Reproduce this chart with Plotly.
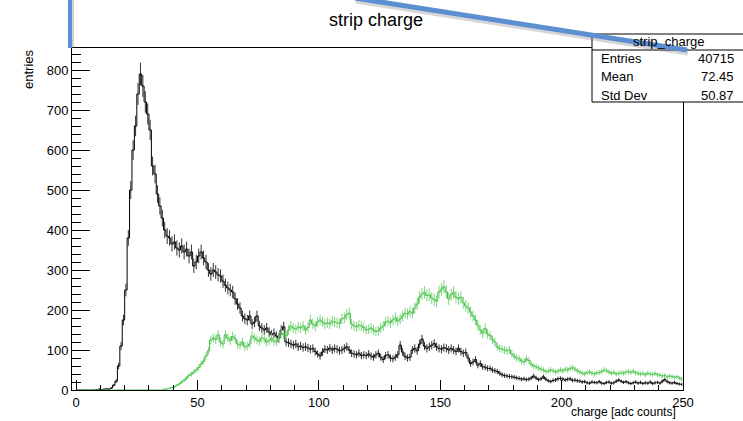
import numpy as np
import plotly.graph_objects as go

# ---------------- data (bin contents, bins of width 1 from 0 to 250) ----------------
black_counts = [
    0, 0, 0, 0, 0, 0, 0, 0, 1, 2, 1, 2, 3, 2, 5, 12, 22, 60, 110, 175,
    250, 380, 500, 600, 660, 740, 790, 760, 720, 690, 650, 560, 540, 490, 460, 430, 400, 385, 380, 365,
    370, 355, 350, 360, 345, 352, 335, 345, 310, 320, 335, 345, 330, 320, 300, 290, 300, 295, 288, 285,
    272, 262, 255, 250, 245, 228, 215, 205, 185, 178, 175, 185, 165, 170, 185, 160, 155, 150, 155, 145,
    138, 142, 135, 130, 150, 158, 120, 118, 115, 112, 115, 108, 110, 106, 108, 105, 102, 104, 96, 90,
    85, 95, 102, 100, 105, 100, 104, 102, 98, 100, 104, 108, 100, 92, 90, 88, 92, 86, 88, 86,
    90, 85, 82, 88, 92, 82, 76, 86, 88, 80, 78, 82, 88, 112, 95, 84, 80, 82, 100, 104,
    98, 115, 127, 110, 104, 108, 112, 116, 108, 104, 102, 106, 104, 100, 104, 100, 96, 104, 96, 92,
    94, 80, 66, 70, 76, 62, 66, 58, 57, 54, 54, 50, 48, 46, 42, 38, 36, 35, 34, 33,
    32, 30, 29, 27, 28, 26, 27, 30, 35, 30, 26, 28, 33, 27, 23, 21, 24, 25, 28, 29,
    27, 25, 27, 28, 24, 25, 23, 22, 20, 21, 18, 17, 20, 19, 18, 21, 17, 16, 19, 20,
    17, 18, 22, 25, 22, 19, 21, 18, 16, 18, 20, 17, 19, 16, 18, 17, 20, 16, 18, 19,
    17, 22, 26, 21, 18, 17, 19, 16, 15, 14,
]

green_counts = [
    0, 0, 0, 0, 0, 0, 0, 0, 0, 0, 0, 0, 0, 0, 0, 0, 0, 0, 0, 0,
    0, 0, 0, 0, 0, 0, 0, 0, 0, 0, 0, 0, 0, 0, 0, 0, 2, 3, 4, 6,
    8, 12, 15, 20, 24, 30, 36, 40, 45, 50, 56, 65, 72, 85, 98, 125, 130, 126, 138, 120,
    115, 138, 130, 124, 134, 128, 115, 112, 120, 108, 110, 115, 135, 130, 125, 122, 130, 128, 120, 124,
    130, 122, 120, 128, 142, 138, 136, 150, 160, 155, 152, 158, 155, 160, 150, 156, 175, 165, 160, 170,
    175, 170, 165, 168, 165, 172, 170, 168, 166, 178, 180, 188, 192, 165, 160, 158, 162, 160, 156, 150,
    152, 155, 150, 146, 148, 155, 160, 170, 172, 168, 175, 180, 172, 178, 185, 192, 190, 196, 192, 205,
    215, 232, 240, 244, 236, 238, 230, 226, 222, 245, 252, 258, 245, 228, 238, 244, 232, 228, 232, 218,
    210, 205, 195, 185, 175, 162, 150, 142, 154, 140, 136, 126, 120, 108, 104, 102, 100, 98, 100, 90,
    84, 80, 78, 72, 70, 78, 74, 64, 60, 58, 55, 52, 50, 46, 47, 50, 48, 45, 47, 50,
    48, 52, 50, 54, 56, 52, 48, 45, 42, 40, 44, 45, 42, 40, 43, 44, 46, 50, 48, 45,
    42, 44, 40, 41, 43, 42, 45, 46, 44, 47, 43, 42, 40, 41, 38, 42, 40, 39, 41, 38,
    37, 35, 36, 33, 35, 34, 32, 33, 30, 27,
]

bin_low = 0
bin_width = 1
title_text = "strip charge"
x_title = "charge [adc counts]"
y_title = "entries"
stats_name = "strip_charge"
stats_rows = [("Entries", "40715"), ("Mean", "72.45"), ("Std Dev", "50.87")]
x_ticks = [0, 50, 100, 150, 200, 250]
y_ticks = [0, 100, 200, 300, 400, 500, 600, 700, 800]

# ---------------- layout geometry ----------------
W, H = 743, 421
L, R, T, B = 72, 683, 48, 390   # plot area pixel box
FONT = "Liberation Sans, Arial, Helvetica, sans-serif"


def px(xp):
    return (xp - L) / (R - L)


def py(yp):
    return (B - yp) / (B - T)


centers = [bin_low + bin_width * (i + 0.5) for i in range(len(black_counts))]
black = np.array(black_counts, dtype=float)
green = np.array(green_counts, dtype=float)

fig = go.Figure()
fig.add_trace(go.Scatter(
    x=centers, y=black, mode="lines", line=dict(color="black", width=1, shape="hvh"),
    error_y=dict(type="data", array=np.sqrt(black), color="#333333", thickness=1, width=0),
    showlegend=False, hoverinfo="skip"))
fig.add_trace(go.Scatter(
    x=centers, y=green, mode="lines", line=dict(color="#45c045", width=1, shape="hvh"),
    error_y=dict(type="data", array=np.sqrt(green), color="#7fd67f", thickness=1, width=0),
    showlegend=False, hoverinfo="skip"))

axis_font = dict(family=FONT, size=13, color="black")
fig.update_layout(
    width=W, height=H,
    margin=dict(l=L, r=W - R, t=T, b=H - B),
    paper_bgcolor="white", plot_bgcolor="white",
    font=dict(family=FONT, color="black"),
    xaxis=dict(range=[-1.7, 250], showgrid=False, zeroline=False, showline=True, mirror=True,
               linecolor="black", linewidth=1, ticks="inside", ticklen=10, tickcolor="black",
               tickvals=x_ticks, ticktext=[str(v) for v in x_ticks], tickfont=axis_font,
               minor=dict(dtick=10, tick0=0, ticks="inside", ticklen=5, tickcolor="black", showgrid=False)),
    yaxis=dict(range=[0, 855], showgrid=False, zeroline=False, showline=True, mirror=True,
               linecolor="black", linewidth=1, ticks="inside", ticklen=18, tickcolor="black",
               tickvals=y_ticks, ticktext=[str(v) for v in y_ticks], tickfont=axis_font,
               minor=dict(dtick=20, tick0=0, ticks="inside", ticklen=9, tickcolor="black", showgrid=False)),
)

ann = []
# title
ann.append(dict(text=title_text, x=px(376), y=py(20), xref="paper", yref="paper",
                xanchor="center", yanchor="middle", showarrow=False,
                font=dict(family=FONT, size=18, color="black")))
# axis titles
ann.append(dict(text=y_title, x=px(29), y=py(69), xref="paper", yref="paper", textangle=-90,
                xanchor="center", yanchor="middle", showarrow=False,
                font=dict(family=FONT, size=13, color="black")))
ann.append(dict(text=x_title, x=px(678), y=py(421), xref="paper", yref="paper",
                xanchor="right", yanchor="bottom", showarrow=False,
                font=dict(family=FONT, size=12, color="black")))

shapes = []
# stats box
sb_l, sb_r, sb_t, sb_b, sb_h = 592, 760, 34, 102, 50
shapes.append(dict(type="rect", xref="paper", yref="paper", x0=px(sb_l), x1=px(sb_r),
                   y0=py(sb_b), y1=py(sb_t), line=dict(color="black", width=1),
                   fillcolor="white", layer="above"))
shapes.append(dict(type="line", xref="paper", yref="paper", x0=px(sb_l), x1=px(sb_r),
                   y0=py(sb_h), y1=py(sb_h), line=dict(color="black", width=1), layer="above"))
ann.append(dict(text=stats_name, x=px(669), y=py(42), xref="paper", yref="paper",
                xanchor="center", yanchor="middle", showarrow=False,
                font=dict(family=FONT, size=13, color="black")))
for i, (lab, val) in enumerate(stats_rows):
    yy = 58.5 + 18.3 * i
    ann.append(dict(text=lab, x=px(599), y=py(yy), xref="paper", yref="paper",
                    xanchor="left", yanchor="middle", showarrow=False,
                    font=dict(family=FONT, size=13, color="black")))
    ann.append(dict(text=val, x=px(736), y=py(yy), xref="paper", yref="paper",
                    xanchor="right", yanchor="middle", showarrow=False,
                    font=dict(family=FONT, size=13, color="black")))

# blue markup strokes on the screenshot
shapes.append(dict(type="line", xref="paper", yref="paper", x0=px(71), x1=px(71),
                   y0=py(48), y1=py(-3), line=dict(color="rgba(120,120,120,0.35)", width=6), layer="above"))
shapes.append(dict(type="line", xref="paper", yref="paper", x0=px(70), x1=px(70),
                   y0=py(48), y1=py(-3), line=dict(color="#5b8fd1", width=4), layer="above"))
shapes.append(dict(type="line", xref="paper", yref="paper", x0=px(356), x1=px(688),
                   y0=py(0), y1=py(52), line=dict(color="rgba(120,120,120,0.3)", width=7), layer="above"))
shapes.append(dict(type="line", xref="paper", yref="paper", x0=px(355), x1=px(687),
                   y0=py(-2), y1=py(50), line=dict(color="#5b8fd1", width=5), layer="above"))

fig.update_layout(annotations=ann, shapes=shapes)
fig.write_html("out.html")
